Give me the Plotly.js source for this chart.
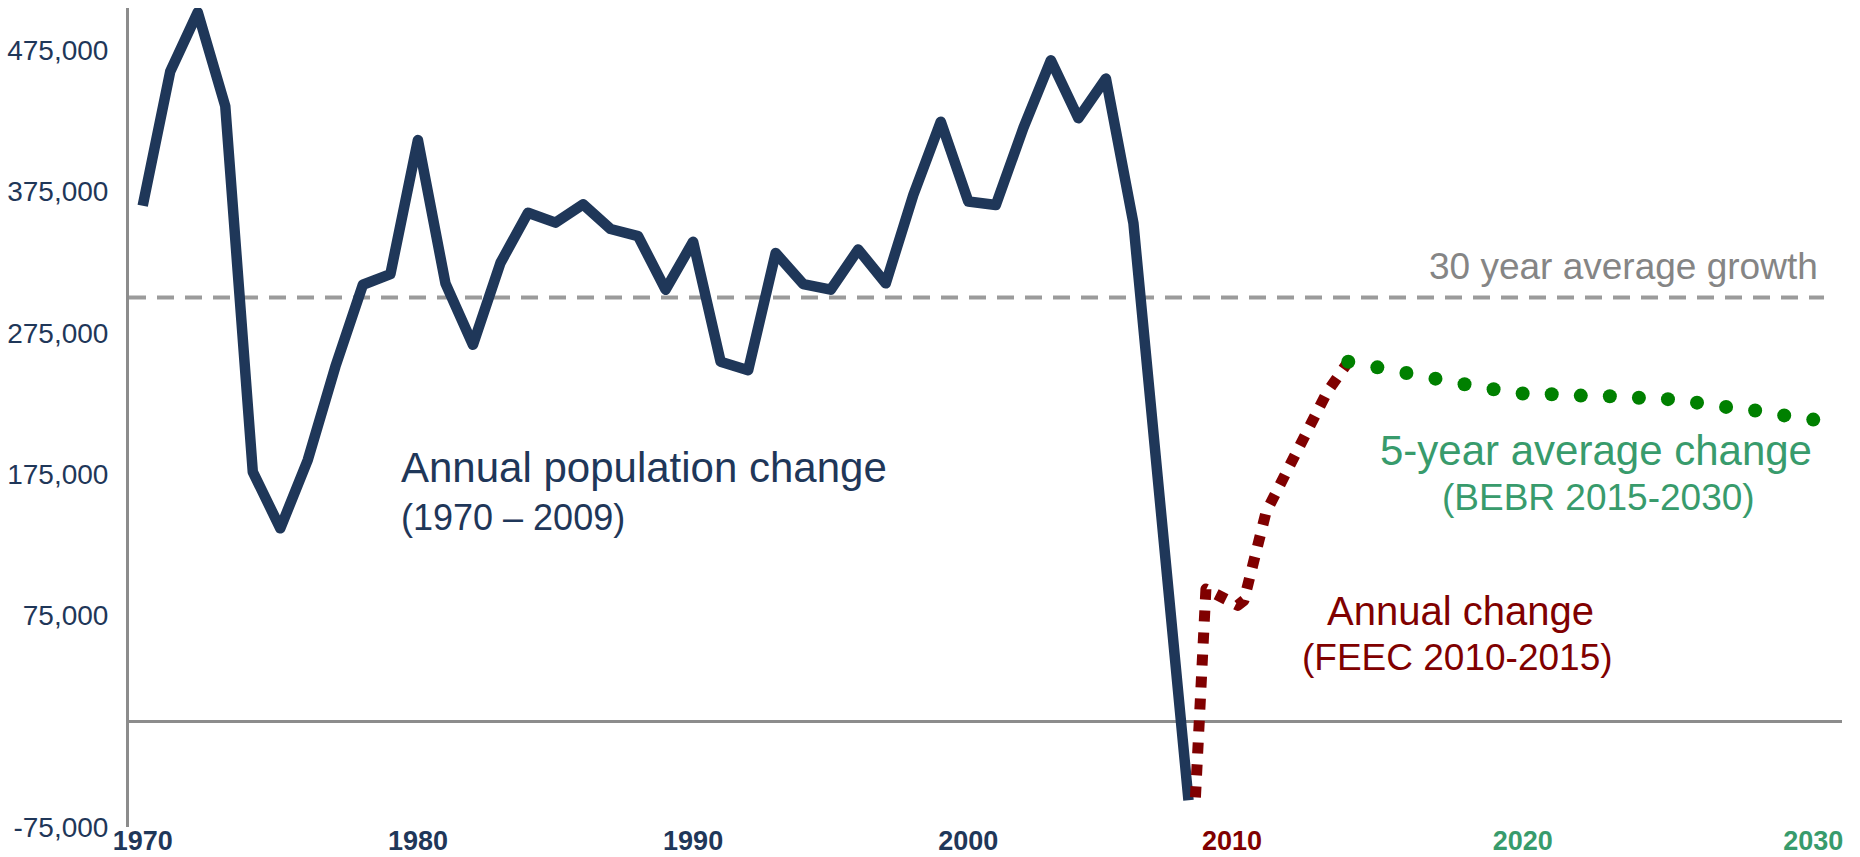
<!DOCTYPE html>
<html>
<head>
<meta charset="utf-8">
<script src="https://cdn.plot.ly/plotly-3.0.1.min.js"></script>
<style>
html,body{margin:0;padding:0;background:#ffffff;}
#chart{width:1860px;height:857px;}
.scatterlayer .js-line{stroke-linejoin:round !important;}
</style>
</head>
<body>
<div id="chart"></div>
<script>
// ---- data ----
const histYears = [1970,1971,1972,1973,1974,1975,1976,1977,1978,1979,
                   1980,1981,1982,1983,1984,1985,1986,1987,1988,1989,
                   1990,1991,1992,1993,1994,1995,1996,1997,1998,1999,
                   2000,2001,2002,2003,2004,2005,2006,2007,2008];
const histChange = [365000,460000,502000,435500,176500,136500,185000,251000,309000,316500,
                    411500,310000,266500,324500,360000,353000,366000,348500,343500,305500,
                    339500,254500,248500,331500,309500,305500,334000,310000,372500,424500,
                    368000,365500,420000,468000,427000,455000,352500,146000,-56000];

const feecYears  = [2008.74,2009.10,2010.20,2010.41,2011.17,2012.54,2013.27,2014];
const feecChange = [-54000,93500,82000,85500,148000,204500,233000,254500];

const bebrYears  = [2014,2015,2016,2017,2018,2019,2020,2021,2022,2023,2024,2025,2026,2027,2028,2029,2030];
const bebrChange = [254500,250500,246500,242500,238500,235000,232000,231500,230500,230000,229000,228000,225500,222500,220000,216500,213500];

const avgGrowth = 300000;

const yTickVals = [-75000,75000,175000,275000,375000,475000];
const yTickText = ["-75,000","75,000","175,000","275,000","375,000","475,000"];
const histTickVals = [1970,1980,1990,2000];
const histTickText = ["1970","1980","1990","2000"];
const projTickVals = [2010,2020,2030];
const projTickText = ["2010","2020","2030"];

// ---- styles ----
const NAVY = "#1F3759";
const MAROON = "#800000";
const GREEN_DOT = "#008000";
const GREEN_TXT = "#389B6C";
const GRAY_TXT = "#858585";
const FONT = "Liberation Sans, Arial, sans-serif";
const projTickColors = [MAROON, GREEN_TXT, GREEN_TXT];

const traces = [
  {x: histYears, y: histChange, xaxis: "x", yaxis: "y", type: "scatter", mode: "lines",
   line: {color: NAVY, width: 10.5}, hoverinfo: "skip"},
  {x: feecYears, y: feecChange, xaxis: "x2", yaxis: "y", type: "scatter", mode: "lines",
   line: {color: MAROON, width: 11, dash: "11px,11px"}, hoverinfo: "skip"},
  {x: bebrYears, y: bebrChange, xaxis: "x2", yaxis: "y", type: "scatter", mode: "markers",
   marker: {color: GREEN_DOT, size: 14}, hoverinfo: "skip"}
];

const layout = {
  width: 1860, height: 857,
  margin: {l: 129, r: 18, t: 8, b: 30},
  paper_bgcolor: "#ffffff", plot_bgcolor: "#ffffff",
  showlegend: false, hovermode: false,
  font: {family: FONT},
  xaxis: {
    range: [1969.502, 2031.747], showgrid: false, zeroline: false, showline: false,
    tickmode: "array", tickvals: histTickVals, ticktext: histTickText, ticks: "",
    tickfont: {size: 27, color: NAVY, family: FONT, weight: "bold"}, ticklabelstandoff: -5
  },
  xaxis2: {
    overlaying: "x", anchor: "y", side: "bottom",
    range: [1972.042, 2030.989], showgrid: false, zeroline: false, showline: false,
    tickmode: "array", tickvals: projTickVals,
    ticktext: projTickText.map((t, i) => '<span style="color:' + projTickColors[i] + '">' + t + '</span>'),
    ticks: "", tickfont: {size: 27, color: GREEN_TXT, family: FONT, weight: "bold"}, ticklabelstandoff: -5
  },
  yaxis: {
    range: [-75000, 505000], showgrid: false,
    showline: true, linecolor: "#8C8C8C", linewidth: 3,
    zeroline: true, zerolinecolor: "#8C8C8C", zerolinewidth: 3,
    tickmode: "array", tickvals: yTickVals, ticktext: yTickText, ticks: "",
    tickfont: {size: 28, color: NAVY, family: FONT}, ticklabelstandoff: 12
  },
  shapes: [
    {type: "line", xref: "paper", yref: "y", x0: 0, x1: 0.9895, y0: avgGrowth, y1: avgGrowth,
     line: {color: "#9B9B9B", width: 4, dash: "17px,11px"}, layer: "below"}
  ],
  annotations: [
    {text: "Annual population change", xref: "paper", yref: "paper", x: 0.15762, y: 0.43834,
     xanchor: "left", yanchor: "middle", showarrow: false, font: {size: 42, color: NAVY, family: FONT}},
    {text: "(1970 – 2009)", xref: "paper", yref: "paper", x: 0.15762, y: 0.37790,
     xanchor: "left", yanchor: "middle", showarrow: false, font: {size: 36, color: NAVY, family: FONT}},
    {text: "30 year average growth", xref: "paper", yref: "paper", x: 0.98716, y: 0.68437,
     xanchor: "right", yanchor: "middle", showarrow: false, font: {size: 37, color: GRAY_TXT, family: FONT}},
    {text: "5-year average change", xref: "paper", yref: "paper", x: 0.85639, y: 0.45910,
     xanchor: "center", yanchor: "middle", showarrow: false, font: {size: 42, color: GREEN_TXT, family: FONT}},
    {text: "(BEBR 2015-2030)", xref: "paper", yref: "paper", x: 0.85814, y: 0.40293,
     xanchor: "center", yanchor: "middle", showarrow: false, font: {size: 37, color: GREEN_TXT, family: FONT}},
    {text: "Annual change", xref: "paper", yref: "paper", x: 0.77700, y: 0.26374,
     xanchor: "center", yanchor: "middle", showarrow: false, font: {size: 40, color: MAROON, family: FONT}},
    {text: "(FEEC 2010-2015)", xref: "paper", yref: "paper", x: 0.77554, y: 0.20757,
     xanchor: "center", yanchor: "middle", showarrow: false, font: {size: 37, color: MAROON, family: FONT}}
  ]
};

Plotly.newPlot("chart", traces, layout, {displayModeBar: false, staticPlot: true});
</script>
</body>
</html>
